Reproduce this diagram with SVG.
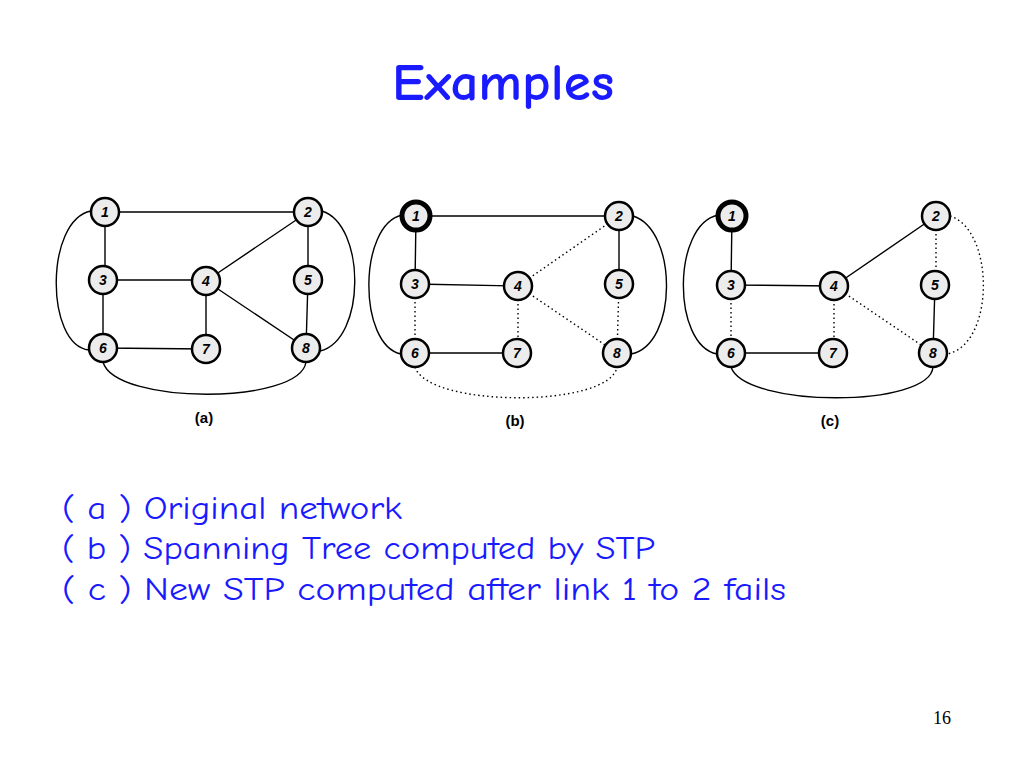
<svg xmlns="http://www.w3.org/2000/svg" width="1024" height="768" viewBox="0 0 1024 768">
<style>
.n circle{fill:#ececec;stroke:#000;stroke-width:2.5}
.n text{font-family:"Liberation Sans",Arial,sans-serif;font-size:14px;font-weight:bold;font-style:italic;text-anchor:middle}
.r circle{stroke-width:5}
.e{stroke:#000;stroke-width:1.4;fill:none}
.d{stroke:#000;stroke-width:1.4;fill:none;stroke-dasharray:1.5 3}
.cap{font-family:"Liberation Sans",Arial,sans-serif;font-size:15px;font-weight:bold;text-anchor:middle}
.body{font-family:"Comic Neue","Open Sans","DejaVu Sans",sans-serif;font-size:33px;fill:#1a1aff}
</style>
<rect width="1024" height="768" fill="#fff"/>
<text x="392" y="100" textLength="222" lengthAdjust="spacingAndGlyphs" font-family="'Comic Neue','DejaVu Sans',sans-serif" font-size="52" font-weight="bold" fill="#1a1aff">Examples</text>
<g id="connectors">
<path class="e" d="M105 212H308M105 212V280M103 280H206M103 280V348M206 281V349M103 348L206 349M206 281L308 212M206 281L306 348M308 212V280M308 280L306 348"/>
<path class="e" d="M91 211C45 220 45 345 89 350M322 211C366 225 366 340 320 351M103 362C115 405 300 405 306 362"/>
<path class="e" d="M416 216H619M416 216L415 284M415 284L518 286M415 353L517 353M619 216V284"/>
<path class="d" d="M415 284V353M518 286V353M518 286L619 216M518 286L617 353M619 284L617 353"/>
<path class="e" d="M402 215C358 225 358 345 401 354M633 216C678 230 678 345 631 354"/>
<path class="d" d="M415 367C428 408 610 408 617 367"/>
<path class="e" d="M732 216L731 285M731 285L834 286M731 353L833 353M834 286L936 216M935 285L933 353"/>
<path class="d" d="M731 285V353M834 286V353M834 286L933 353M936 216V285"/>
<path class="e" d="M718 215C672 225 672 345 717 354M731 367C745 408 930 408 933 367"/>
<path class="d" d="M950 216C995 230 995 345 947 354"/>
</g>
<g id="a">
<g id="a1" class="n"><circle cx="105" cy="212" r="14"/><text x="105" y="217">1</text></g>
<g id="a2" class="n"><circle cx="308" cy="212" r="14"/><text x="308" y="217">2</text></g>
<g id="a3" class="n"><circle cx="103" cy="280" r="14"/><text x="103" y="285">3</text></g>
<g id="a4" class="n"><circle cx="206" cy="281" r="14"/><text x="206" y="286">4</text></g>
<g id="a5" class="n"><circle cx="308" cy="280" r="14"/><text x="308" y="285">5</text></g>
<g id="a6" class="n"><circle cx="103" cy="348" r="14"/><text x="103" y="353">6</text></g>
<g id="a7" class="n"><circle cx="206" cy="349" r="14"/><text x="206" y="354">7</text></g>
<g id="a8" class="n"><circle cx="306" cy="348" r="14"/><text x="306" y="353">8</text></g>
</g>
<g id="b">
<g id="b1" class="n r"><circle cx="416" cy="216" r="14"/><text x="416" y="221">1</text></g>
<g id="b2" class="n"><circle cx="619" cy="216" r="14"/><text x="619" y="221">2</text></g>
<g id="b3" class="n"><circle cx="415" cy="284" r="14"/><text x="415" y="289">3</text></g>
<g id="b4" class="n"><circle cx="518" cy="286" r="14"/><text x="518" y="291">4</text></g>
<g id="b5" class="n"><circle cx="619" cy="284" r="14"/><text x="619" y="289">5</text></g>
<g id="b6" class="n"><circle cx="415" cy="353" r="14"/><text x="415" y="358">6</text></g>
<g id="b7" class="n"><circle cx="517" cy="353" r="14"/><text x="517" y="358">7</text></g>
<g id="b8" class="n"><circle cx="617" cy="353" r="14"/><text x="617" y="358">8</text></g>
</g>
<g id="c">
<g id="c1" class="n r"><circle cx="732" cy="216" r="14"/><text x="732" y="221">1</text></g>
<g id="c2" class="n"><circle cx="936" cy="216" r="14"/><text x="936" y="221">2</text></g>
<g id="c3" class="n"><circle cx="731" cy="285" r="14"/><text x="731" y="290">3</text></g>
<g id="c4" class="n"><circle cx="834" cy="286" r="14"/><text x="834" y="291">4</text></g>
<g id="c5" class="n"><circle cx="935" cy="285" r="14"/><text x="935" y="290">5</text></g>
<g id="c6" class="n"><circle cx="731" cy="353" r="14"/><text x="731" y="358">6</text></g>
<g id="c7" class="n"><circle cx="833" cy="353" r="14"/><text x="833" y="358">7</text></g>
<g id="c8" class="n"><circle cx="933" cy="353" r="14"/><text x="933" y="358">8</text></g>
</g>
<text class="cap" x="204" y="423">(a)</text>
<text class="cap" x="515" y="426">(b)</text>
<text class="cap" x="830" y="426">(c)</text>
<text class="body" x="62" y="519" textLength="340" lengthAdjust="spacingAndGlyphs">( a ) Original network</text>
<text class="body" x="62" y="559" textLength="593" lengthAdjust="spacingAndGlyphs">( b ) Spanning Tree computed by STP</text>
<text class="body" x="62" y="600" textLength="724" lengthAdjust="spacingAndGlyphs">( c ) New STP computed after link 1 to 2 fails</text>
<text x="942" y="724" text-anchor="middle" font-family="'Liberation Serif',serif" font-size="18">16</text>
</svg>
